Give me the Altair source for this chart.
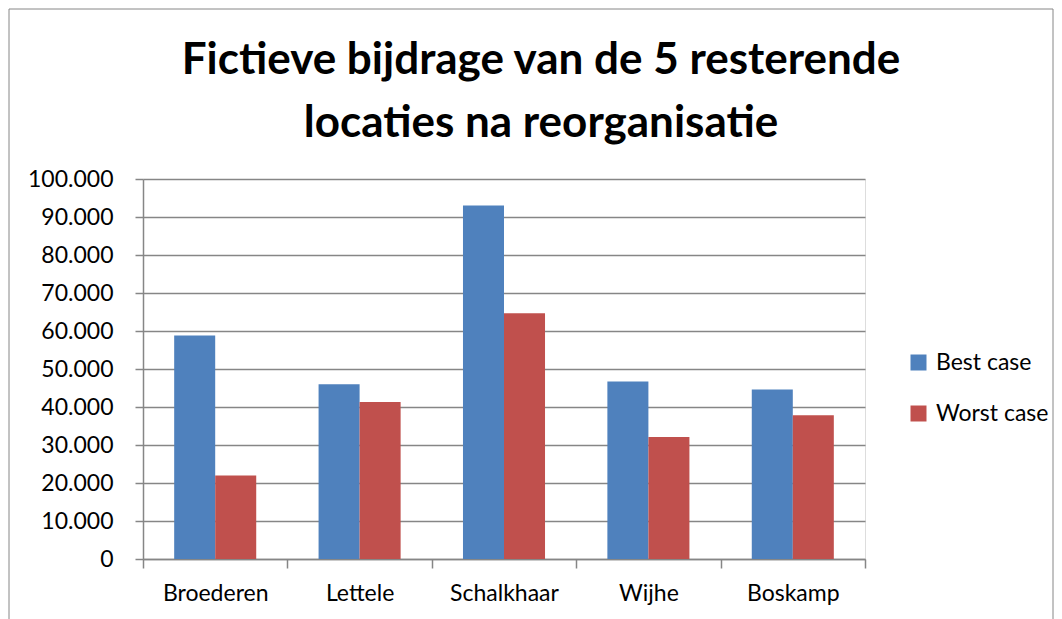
import altair as alt
import pandas as pd

locations = ["Broederen", "Lettele", "Schalkhaar", "Wijhe", "Boskamp"]
best_case = [58800, 46000, 93000, 46700, 44600]
worst_case = [22000, 41300, 64700, 32100, 37800]
series = ["Best case", "Worst case"]
colors = ["#4F81BD", "#C0504D"]
y_ticks = [0, 10000, 20000, 30000, 40000, 50000, 60000, 70000, 80000, 90000, 100000]

rows = []
for loc, b, w in zip(locations, best_case, worst_case):
    rows.append({"Locatie": loc, "Scenario": series[0], "Waarde": b})
    rows.append({"Locatie": loc, "Scenario": series[1], "Waarde": w})
df = pd.DataFrame(rows)

GRAY = "#868686"
FONT = "Lato"

bars = alt.Chart(df).mark_bar().encode(
    x=alt.X("Locatie:N", sort=locations, title=None,
            scale=alt.Scale(paddingInner=0, paddingOuter=0),
            axis=alt.Axis(labelAngle=0, tickBand="extent", tickSize=9,
                          labelPadding=14, labelFontSize=23, labelFont=FONT,
                          labelColor="#000000", domainColor=GRAY, tickColor=GRAY,
                          domainWidth=1.5, tickWidth=1.5, grid=False)),
    xOffset=alt.XOffset("Scenario:N", sort=series,
                        scale=alt.Scale(paddingInner=0, paddingOuter=0.76)),
    y=alt.Y("Waarde:Q", title=None,
            scale=alt.Scale(domain=[0, 100000], nice=False),
            axis=alt.Axis(values=y_ticks, tickSize=8, labelPadding=22,
                          labelFontSize=23, labelFont=FONT, labelColor="#000000",
                          labelExpr="replace(format(datum.value, ',d'), ',', '.')",
                          domainColor=GRAY, tickColor=GRAY, gridColor=GRAY,
                          domainWidth=1.5, tickWidth=1.5, gridWidth=1.5)),
    color=alt.Color("Scenario:N", sort=series,
                    scale=alt.Scale(domain=series, range=colors),
                    legend=alt.Legend(title=None, orient="none", legendX=764, legendY=172,
                                      symbolType="square", symbolSize=256,
                                      symbolStrokeWidth=0, labelFont=FONT,
                                      labelFontSize=23, labelColor="#000000",
                                      labelOffset=6, rowPadding=27)),
)

frame = alt.Chart(pd.DataFrame({"f": [0]})).mark_rect(
    fill=None, stroke=GRAY, strokeWidth=1
).encode(
    x=alt.value(-134), x2=alt.value(910), y=alt.value(-170), y2=alt.value(470)
)

chart = alt.layer(frame, bars).properties(
    width=722, height=380,
    padding=0,
    title=alt.TitleParams(
        text=["Fictieve bijdrage van de 5 resterende", "locaties na reorganisatie"],
        font=FONT, fontSize=44, fontWeight="bold", color="#000000",
        lineHeight=63, anchor="middle", dx=37, dy=167, offset=30,
    ),
).configure_view(stroke=None).configure(background="white")

chart.save("out.html", embed_options={"renderer": "svg", "actions": False})
